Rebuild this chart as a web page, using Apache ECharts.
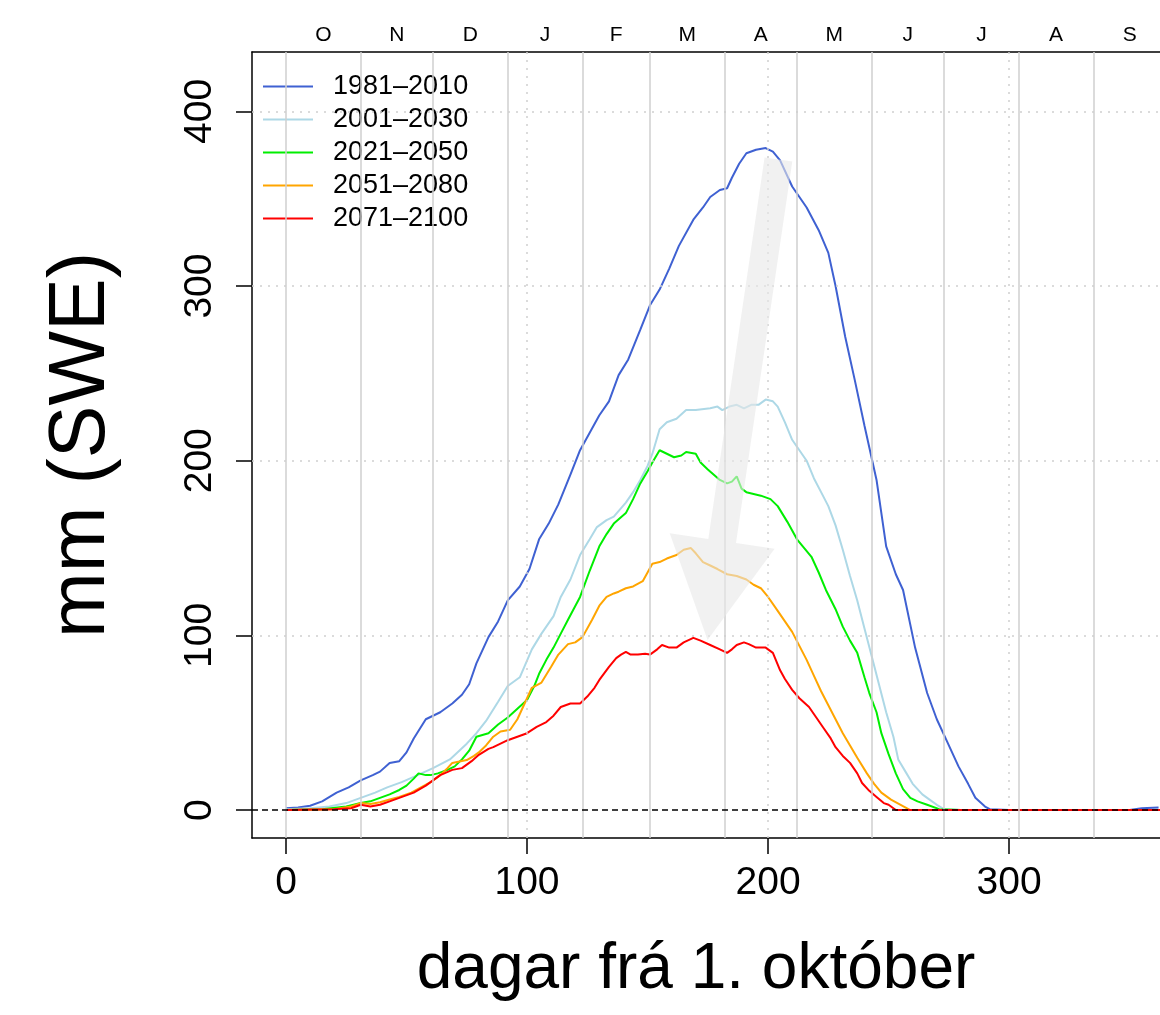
<!DOCTYPE html>
<html>
<head>
<meta charset="utf-8">
<script src="https://cdn.jsdelivr.net/npm/echarts@6/dist/echarts.min.js"></script>
<style>
  html, body { margin: 0; padding: 0; background: #fff; }
  #snow { width: 1160px; height: 1015px; }
</style>
</head>
<body>
<div id="snow"></div>
<script>
// snow water equivalent per day since 1 October, [day, mm]
var s1981 = [[0,1],[5,1.5],[10,2.5],[15,5],[21,10],[26,13],[31,17],[36,20],[39,22],[43,27],[47,28],[50,33],[53,41],[58,52],[64,56],[69,61],[73,66],[76,72],[79,84],[84,99],[88,108],[92,120],[97,128],[101,138],[105,155],[109,164],[113,175],[118,192],[122,206],[126,216],[130,226],[134,234],[138,249],[142,258],[147,275],[151,289],[155,298],[159,310],[163,323],[169,338],[173,345],[176,351],[180,355],[183,356],[185,362],[188,370],[191,376],[195,378],[199,379],[202,377],[205,372],[210,357],[216,345],[221,332],[225,319],[228,300],[232,271],[236,246],[240,220],[245,189],[249,151],[253,135],[256,126],[261,93],[266,67],[270,52],[274,40],[279,25],[283,15],[286,7],[290,2],[292,0.5],[300,0],[350,0],[355,1],[362,1.5]];
var s2001 = [[0,0.5],[10,1],[18,2],[25,4],[31,7],[37,10],[42,13],[48,16],[53,19],[61,24],[68,29],[75,38],[79,44],[83,51],[88,62],[92,71],[97,76],[102,92],[106,101],[111,111],[114,122],[118,132],[122,146],[126,155],[129,162],[133,166],[136,168],[141,176],[144,182],[147,189],[150,197],[152,204],[155,218],[158,222],[162,224],[166,229],[170,229],[176,230],[179,231],[181,229],[184,231],[187,232],[190,230],[193,232],[196,232],[199,235],[202,234],[204,231],[207,222],[210,212],[213,206],[216,200],[219,190],[222,182],[225,174],[228,163],[231,149],[234,134],[237,120],[240,104],[243,88],[246,72],[249,56],[252,42],[254,29],[257,22],[260,15],[264,9],[267,6],[270,3],[273,0.5],[280,0],[363,0]];
var s2021 = [[0,0],[15,0.5],[25,2],[31,4],[35,5],[39,7],[43,9],[47,11.5],[50,14],[53,18],[55,21],[58,20],[60,20],[63,21],[67,23],[70,25],[73,29],[76,34],[79,42],[84,44],[88,49],[92,53],[96,58],[100,63],[103,71],[105,78],[108,86],[111,93],[114,101],[117,109],[122,122],[126,137],[130,151],[133,158],[136,164],[141,170],[144,178],[147,187],[150,194],[152,199],[155,206],[158,204],[161,202],[164,203],[166,205],[170,204],[172,199],[175,195],[180,189],[183,187],[185,188],[187,191],[189,184],[191,182],[194,181],[197,180],[201,178],[204,174],[208,165],[212,155],[215,150],[218,145],[221,136],[224,126],[228,115],[231,105],[234,97],[237,90],[240,76],[242,67],[245,56],[247,44],[250,32],[253,21],[256,12],[259,7],[262,5],[266,3],[271,0.5],[280,0],[363,0]];
var s2051 = [[0,0],[20,0.5],[27,2],[31,4],[35,3.5],[39,4.5],[43,6],[47,7.5],[52,10],[56,13],[60,16],[64,20],[67,24],[69,27],[75,28.6],[78,31],[80,33],[83,37],[86,42],[89,45],[93,46],[96,52],[98,58],[102,70],[106,73],[110,82],[113,89],[117,95],[120,96],[123,99],[127,109],[130,117],[133,122],[136,124],[138,125],[141,127],[144,128],[148,131],[150,136],[152,141],[155,142],[158,144],[162,146],[165,149],[168,150],[170,147],[173,142],[176,140],[179,138],[183,135],[187,134],[191,132],[194,129],[197,127],[200,122],[204,114],[207,108],[210,102],[213,94],[216,86],[219,77],[222,68],[225,60],[228,52],[231,44],[234,37],[237,30],[241,21],[244,15],[247,10],[251,6],[255,3],[259,0],[363,0]];
var s2071 = [[0,0],[20,0.5],[27,1],[31,3],[35,2],[39,3],[43,5],[47,7],[53,10],[58,14],[61,17],[64,20],[69,23],[73,24],[77,28],[80,31.6],[84,35],[86,36],[89,38],[92,40],[96,42],[100,44],[104,47.6],[108,50.4],[111,54],[114,59],[118,61],[122,61],[125,65],[128,70],[130,74.5],[134,82],[137,87],[139,89],[141,90.5],[143,89],[146,89],[149,89.5],[151,89],[154,92],[156,94.5],[159,93],[162,93],[165,96],[169,98.6],[172,97],[176,94.5],[180,92],[183,90],[185,92],[187,94.5],[190,96],[192,95],[195,93],[199,93],[201,91],[202,90],[205,80],[207,75],[210,68.8],[213,64],[217,59],[220,53],[223,47],[226,41],[228,36],[231,31],[234,27],[237,21],[239,15.5],[242,11],[245,7.5],[248,4],[250,3],[253,0],[363,0]];

var seriesNames = ['1981–2010', '2001–2030', '2021–2050', '2051–2080', '2071–2100'];
var seriesColors = ['#3F61D2', '#ADD8E6', '#00EE00', '#FFA500', '#FF0000'];
var seriesData = [s1981, s2001, s2021, s2051, s2071];

// axes
var xTicks = [0, 100, 200, 300];
var yTicks = [0, 100, 200, 300, 400];
var monthStarts = [0, 31, 61, 92, 123, 151, 182, 212, 243, 273, 304, 335];
var monthMids = [15.5, 46, 76.5, 107.5, 137, 166.5, 197, 227.5, 258, 288.5, 319.5, 350];
var monthLetters = ['O', 'N', 'D', 'J', 'F', 'M', 'A', 'M', 'J', 'J', 'A', 'S'];
var gridX = [100, 200, 300];
var gridY = [100, 200, 300, 400];

// trend arrow: from [day, mm] to [day, mm]
var arrowFromTo = [204.3, 372.5, 174.9, 97.4];

var FONT = 'Liberation Sans';

var chart = echarts.init(document.getElementById('snow'));

var guideLines = [];
monthStarts.forEach(function (d) {
  guideLines.push({ xAxis: d, lineStyle: { color: '#cfcfcf', width: 1.5, type: 'solid' } });
});
gridX.forEach(function (d) {
  guideLines.push({ xAxis: d, lineStyle: { color: '#cfcfcf', width: 1.5, type: [2, 6] } });
});
gridY.forEach(function (v) {
  guideLines.push({ yAxis: v, lineStyle: { color: '#cfcfcf', width: 1.5, type: [2, 6] } });
});

var series = [{
  name: 'guides',
  type: 'line',
  data: [],
  z: 1,
  silent: true,
  markLine: { symbol: 'none', silent: true, label: { show: false }, data: guideLines, animation: false }
}];

seriesData.forEach(function (d, i) {
  series.push({
    name: seriesNames[i],
    type: 'line',
    data: d,
    showSymbol: false,
    symbol: 'none',
    z: 3,
    lineStyle: { color: seriesColors[i], width: 2 },
    itemStyle: { color: seriesColors[i] }
  });
});

series.push({
  name: 'zero',
  type: 'line',
  data: [],
  z: 4,
  markLine: {
    symbol: 'none', silent: true, label: { show: false }, animation: false,
    data: [{ yAxis: 0, lineStyle: { color: '#000', width: 1.5, type: [6, 4] } }]
  }
});

series.push({
  name: 'arrow',
  type: 'custom',
  z: 6,
  silent: true,
  clip: false,
  data: [arrowFromTo],
  encode: { x: [0, 2], y: [1, 3] },
  renderItem: function (params, api) {
    var p0 = api.coord([api.value(0), api.value(1)]);
    var p1 = api.coord([api.value(2), api.value(3)]);
    var dx = p1[0] - p0[0], dy = p1[1] - p0[1];
    var len = Math.sqrt(dx * dx + dy * dy);
    var ux = dx / len, uy = dy / len;
    var nx = -uy, ny = ux;
    var shaft = 14, head = 53, headLen = 100;
    var bx = p1[0] - ux * headLen, by = p1[1] - uy * headLen;
    var pts = [
      [p0[0] + nx * shaft, p0[1] + ny * shaft],
      [bx + nx * shaft, by + ny * shaft],
      [bx + nx * head, by + ny * head],
      [p1[0], p1[1]],
      [bx - nx * head, by - ny * head],
      [bx - nx * shaft, by - ny * shaft],
      [p0[0] - nx * shaft, p0[1] - ny * shaft]
    ];
    return { type: 'polygon', shape: { points: pts }, style: { fill: 'rgba(232,232,232,0.6)' } };
  }
});

var option = {
  backgroundColor: '#fff',
  animation: false,
  textStyle: { fontFamily: FONT, color: '#000' },
  grid: { left: 252, top: 52, right: 0, bottom: 177, show: false },
  legend: {
    data: seriesNames,
    orient: 'vertical',
    left: 258, top: 68,
    icon: 'rect',
    itemWidth: 50, itemHeight: 2, itemGap: 6,
    textStyle: { fontSize: 27, fontFamily: FONT, color: '#000', lineHeight: 26, padding: [0, 0, 0, 15] }
  },
  xAxis: [{
    type: 'value',
    position: 'bottom',
    min: -14.1, max: 362.6,
    axisLine: { show: true, onZero: false, lineStyle: { color: '#000', width: 1.5 } },
    axisTick: { show: true, customValues: xTicks, length: 16, lineStyle: { color: '#000', width: 1.5 } },
    axisLabel: { customValues: xTicks, fontSize: 39, color: '#000', fontFamily: FONT, margin: 26 },
    splitLine: { show: false },
    name: 'dagar frá 1. október',
    nameLocation: 'middle',
    nameGap: 100,
    nameTextStyle: { fontSize: 64, color: '#000', fontFamily: FONT, padding: [0, 20, 0, 0] }
  }, {
    type: 'value',
    position: 'top',
    min: -14.1, max: 362.6,
    axisLine: { show: true, onZero: false, lineStyle: { color: '#000', width: 1.5 } },
    axisTick: { show: false },
    splitLine: { show: false },
    axisLabel: {
      customValues: monthMids,
      fontSize: 21, color: '#000', fontFamily: FONT, margin: 6,
      formatter: function (v) {
        var i = monthMids.indexOf(v);
        return i >= 0 ? monthLetters[i] : '';
      }
    }
  }],
  yAxis: {
    type: 'value',
    min: -16, max: 434,
    axisLine: { show: true, onZero: false, lineStyle: { color: '#000', width: 1.5 } },
    axisTick: { show: true, customValues: yTicks, length: 16, lineStyle: { color: '#000', width: 1.5 } },
    axisLabel: { customValues: yTicks, rotate: 90, fontSize: 39, color: '#000', fontFamily: FONT, margin: 32 },
    splitLine: { show: false },
    name: 'mm (SWE)',
    nameLocation: 'middle',
    nameGap: 130,
    nameTextStyle: { fontSize: 79, color: '#000', fontFamily: FONT }
  },
  series: series
};

chart.setOption(option);
</script>
</body>
</html>
